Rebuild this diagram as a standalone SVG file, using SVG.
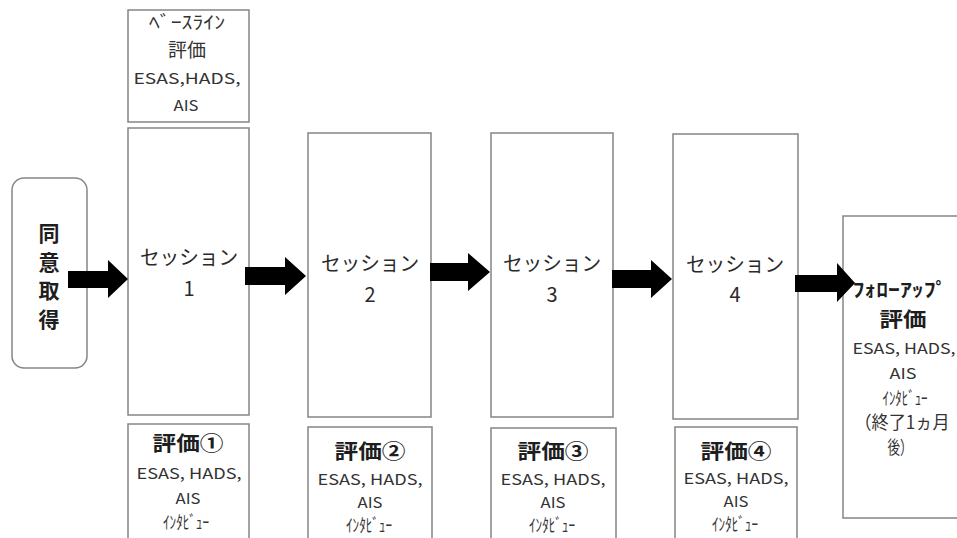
<svg xmlns="http://www.w3.org/2000/svg" width="957" height="538" viewBox="0 0 957 538">
<defs>
<style>
.box{fill:#ffffff;stroke:#858585;stroke-width:1.5}
text{font-family:"Noto Sans CJK JP","Noto Sans",sans-serif;fill:#333333;text-anchor:middle;dominant-baseline:central}
.b{font-weight:bold;fill:#1e1e1e}
.s{font-size:20px;fill:#2a2a2a}
.e{font-size:15px}
.k{font-size:18px}
.h{font-size:20px;font-weight:bold;fill:#1e1e1e}
.arr{fill:#000000}
</style>
</defs>
<rect width="957" height="538" fill="#ffffff"/>

<g id="consent">
<rect class="box" x="12" y="178" width="75" height="190" rx="12"/>
<text class="b" x="49" y="232" font-size="21">同</text>
<text class="b" x="49" y="261" font-size="21">意</text>
<text class="b" x="49" y="289" font-size="21">取</text>
<text class="b" x="49" y="318" font-size="21">得</text>
</g>

<g id="baseline">
<rect class="box" x="128" y="10" width="121" height="112"/>
<text class="k" x="187" y="21" textLength="76" lengthAdjust="spacingAndGlyphs">ﾍﾞｰｽﾗｲﾝ</text>
<text x="187" y="48" font-size="19">評価</text>
<text class="e" x="187" y="77" textLength="107" lengthAdjust="spacingAndGlyphs">ESAS,HADS,</text>
<text class="e" x="186" y="104" textLength="25" lengthAdjust="spacingAndGlyphs">AIS</text>
</g>

<g id="session1">
<rect class="box" x="128" y="128" width="121" height="287"/>
<text class="s" x="189" y="256" textLength="98" lengthAdjust="spacingAndGlyphs">セッション</text>
<text class="s" x="189" y="287">1</text>
</g>
<g id="session2">
<rect class="box" x="308" y="133" width="123" height="284"/>
<text class="s" x="370" y="262" textLength="98" lengthAdjust="spacingAndGlyphs">セッション</text>
<text class="s" x="370" y="293">2</text>
</g>
<g id="session3">
<rect class="box" x="491" y="133" width="122" height="284"/>
<text class="s" x="552" y="262" textLength="98" lengthAdjust="spacingAndGlyphs">セッション</text>
<text class="s" x="552" y="293">3</text>
</g>
<g id="session4">
<rect class="box" x="673" y="134" width="125" height="285"/>
<text class="s" x="735" y="263" textLength="98" lengthAdjust="spacingAndGlyphs">セッション</text>
<text class="s" x="735" y="293">4</text>
</g>

<g id="eval1">
<rect class="box" x="128" y="424" width="121" height="130"/>
<text class="h" x="188" y="442" textLength="71" lengthAdjust="spacingAndGlyphs">評価①</text>
<text class="e" x="189" y="472" textLength="105" lengthAdjust="spacingAndGlyphs">ESAS, HADS,</text>
<text class="e" x="188" y="497" textLength="25" lengthAdjust="spacingAndGlyphs">AIS</text>
<text class="k" x="186" y="521" textLength="46" lengthAdjust="spacingAndGlyphs">ｲﾝﾀﾋﾞｭｰ</text>
</g>
<g id="eval2">
<rect class="box" x="308" y="427" width="124" height="130"/>
<text class="h" x="370" y="450" textLength="71" lengthAdjust="spacingAndGlyphs">評価②</text>
<text class="e" x="370" y="478" textLength="105" lengthAdjust="spacingAndGlyphs">ESAS, HADS,</text>
<text class="e" x="370" y="501" textLength="25" lengthAdjust="spacingAndGlyphs">AIS</text>
<text class="k" x="369" y="524" textLength="46" lengthAdjust="spacingAndGlyphs">ｲﾝﾀﾋﾞｭｰ</text>
</g>
<g id="eval3">
<rect class="box" x="491" y="428" width="125" height="130"/>
<text class="h" x="553" y="450" textLength="71" lengthAdjust="spacingAndGlyphs">評価③</text>
<text class="e" x="553" y="478" textLength="105" lengthAdjust="spacingAndGlyphs">ESAS, HADS,</text>
<text class="e" x="553" y="501" textLength="25" lengthAdjust="spacingAndGlyphs">AIS</text>
<text class="k" x="552" y="524" textLength="46" lengthAdjust="spacingAndGlyphs">ｲﾝﾀﾋﾞｭｰ</text>
</g>
<g id="eval4">
<rect class="box" x="675" y="427" width="122" height="130"/>
<text class="h" x="736" y="450" textLength="71" lengthAdjust="spacingAndGlyphs">評価④</text>
<text class="e" x="736" y="477" textLength="105" lengthAdjust="spacingAndGlyphs">ESAS, HADS,</text>
<text class="e" x="736" y="500" textLength="25" lengthAdjust="spacingAndGlyphs">AIS</text>
<text class="k" x="735" y="523" textLength="46" lengthAdjust="spacingAndGlyphs">ｲﾝﾀﾋﾞｭｰ</text>
</g>

<g id="followup">
<rect class="box" x="843" y="216" width="130" height="302"/>
<text class="b" x="900" y="288" font-size="19" textLength="95" lengthAdjust="spacingAndGlyphs">ﾌｫﾛｰｱｯﾌﾟ</text>
<text class="h" x="903" y="318" font-size="22" textLength="47" lengthAdjust="spacingAndGlyphs">評価</text>
<text class="e" x="904" y="347" textLength="103" lengthAdjust="spacingAndGlyphs">ESAS, HADS,</text>
<text class="e" x="903" y="372" textLength="27" lengthAdjust="spacingAndGlyphs">AIS</text>
<text class="k" x="905" y="397" textLength="45" lengthAdjust="spacingAndGlyphs">ｲﾝﾀﾋﾞｭｰ</text>
<text x="902" y="421" font-size="18" textLength="95" lengthAdjust="spacingAndGlyphs">（終了1ヵ月</text>
<text x="900" y="446" font-size="18" textLength="25" lengthAdjust="spacingAndGlyphs">後）</text>
</g>

<g id="connectors">
<polygon class="arr" points="68,271 108,271 108,260 128,279 108,298 108,288 68,288"/>
<polygon class="arr" points="245,267 285,267 285,257 306,276 285,295 285,285 245,285"/>
<polygon class="arr" points="430,263 468,263 468,253 490,272 468,291 468,281 430,281"/>
<polygon class="arr" points="612,270 651,270 651,260 672,279 651,298 651,288 612,288"/>
<polygon class="arr" points="795,275 837,275 837,263 855,283 837,302 837,292 795,292"/>
</g>
</svg>
